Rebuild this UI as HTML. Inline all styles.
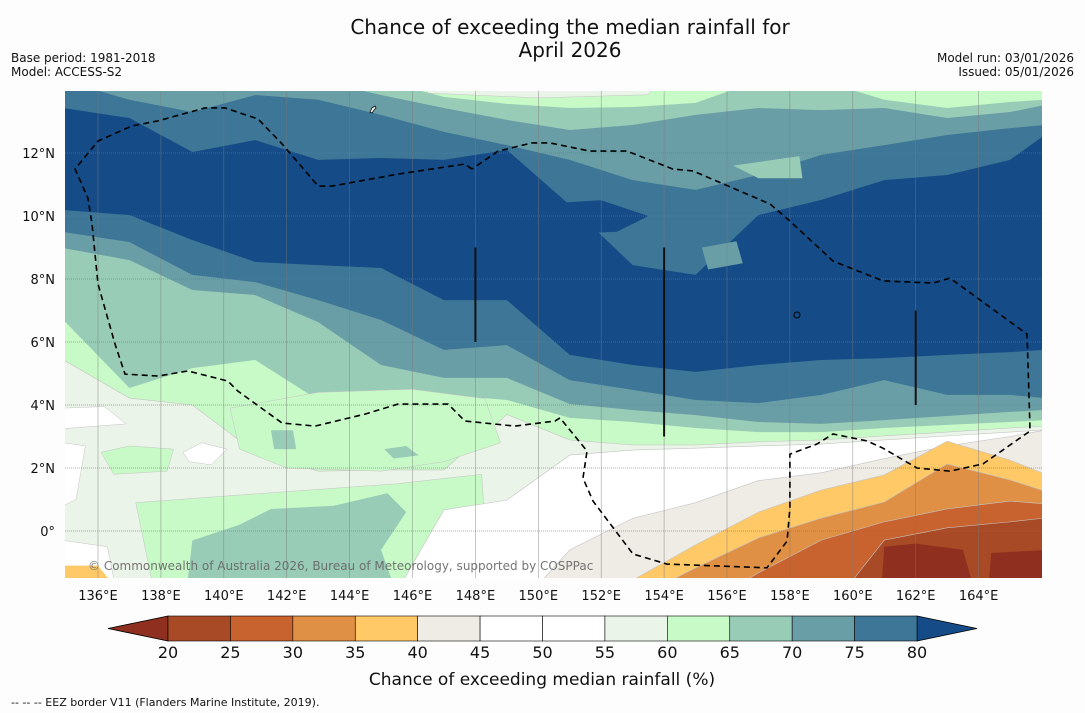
<!DOCTYPE html>
<html><head><meta charset="utf-8">
<style>
body{margin:0;background:#fdfdfd;font-family:"DejaVu Sans","Liberation Sans",sans-serif;}
svg{display:block}
text{font-family:"DejaVu Sans","Liberation Sans",sans-serif;}
</style></head>
<body>
<svg id="chart" width="1085" height="713" viewBox="0 0 1085 713" xmlns="http://www.w3.org/2000/svg">
<rect x="0" y="0" width="1085" height="713" fill="#fdfdfd"/>
<text x="570" y="34" text-anchor="middle" font-size="20" fill="#111">Chance of exceeding the median rainfall for</text>
<text x="570" y="57" text-anchor="middle" font-size="20" fill="#111">April 2026</text>
<text x="11" y="62" font-size="12" fill="#111">Base period: 1981-2018</text>
<text x="11" y="76" font-size="12" fill="#111">Model: ACCESS-S2</text>
<text x="1074" y="62" font-size="12" fill="#111" text-anchor="end">Model run: 03/01/2026</text>
<text x="1074" y="76" font-size="12" fill="#111" text-anchor="end">Issued: 05/01/2026</text>
<defs><clipPath id="mapclip"><rect x="65" y="91" width="977" height="487"/></clipPath></defs>
<g id="map" clip-path="url(#mapclip)"></g>
<g id="axes"></g>
<g id="cbar"></g>
<text x="542" y="685" text-anchor="middle" font-size="17" fill="#111">Chance of exceeding median rainfall (%)</text>
<text x="11" y="706" font-size="11" fill="#111">--  --  -- EEZ border V11 (Flanders Marine Institute, 2019).</text>
</svg>
<script>
// ---- data ----
const lons = [134.9,137,139,141,143,145,147,149,151,153,155,157,159,161,163,165,166.1];
const ge80Top = [13.43,13.11,12.03,12.41,11.78,11.84,11.78,12.1,10.35,8.44,8.13,10.03,10.51,11.14,11.30,11.78,12.57];
const ge80Bot = [10.19,10.03,9.24,8.54,8.44,8.35,7.33,7.33,5.59,5.27,5.05,5.27,5.43,5.49,5.59,5.68,5.75];
const ge75Top = [14.3,13.69,13.30,13.84,13.69,13.21,12.67,12.25,11.78,11.14,10.83,11.30,11.94,12.25,12.57,12.79,12.89];
const ge75Bot = [9.49,9.17,8.13,7.90,7.33,6.70,5.75,5.90,4.79,4.48,4.16,4.06,4.32,4.79,4.32,4.32,4.22];
const ge70Top = [14.3,14.3,14.3,14.3,14.3,13.84,13.43,13.05,12.73,12.89,13.21,13.43,13.36,13.43,13.11,13.30,13.52];
const ge70Bot = [8.98,8.60,7.65,7.49,6.63,5.27,4.86,4.86,4.03,3.84,3.68,3.46,3.40,3.52,3.65,3.78,3.84];
const ge65Top = [14.3,14.3,14.3,14.3,14.3,14.3,13.78,13.56,13.43,13.46,13.59,14.3,14.3,13.69,13.43,13.62,13.69];
const ge65Bot = [6.70,4.54,5.17,5.43,4.16,4.41,4.32,4.16,3.59,3.46,3.27,3.14,3.14,3.27,3.37,3.46,3.52];
const le60Top = [5.43,4.22,4.0,2.5,1.9,1.94,1.94,3.7,2.89,2.73,2.73,2.83,2.89,3.02,3.14,3.27,3.33];
const le55Top = [-2.8,-2.8,-2.8,-2.8,-2.8,-2.8,0.67,0.98,2.41,2.57,2.63,2.70,2.76,2.89,3.02,3.14,3.21];
const le45Top = [-2.8,-2.8,-2.8,-2.8,-2.8,-2.8,-2.8,-2.8,-0.6,0.4,0.9,1.6,1.85,2.3,2.7,3.0,3.2];
const le40Top = [-2.8,-2.8,-2.8,-2.8,-2.8,-2.8,-2.8,-2.8,-2.8,-1.56,-0.44,0.60,1.30,1.78,2.85,2.25,1.81];
const le35Top = [-2.8,-2.8,-2.8,-2.8,-2.8,-2.8,-2.8,-2.8,-2.8,-2.19,-1.17,-0.22,0.41,0.92,2.13,1.62,1.27];
const le30Top = [-2.8,-2.8,-2.8,-2.8,-2.8,-2.8,-2.8,-2.8,-2.8,-2.8,-2.5,-1.33,-0.29,0.29,0.70,0.95,0.86];
const le25Top = [-2.8,-2.8,-2.8,-2.8,-2.8,-2.8,-2.8,-2.8,-2.8,-2.8,-2.8,-2.8,-2.83,-0.29,0.10,0.29,0.41];
// blobs [lon,lat]
const darkPatch = [[150.3,10.4],[152,10.5],[153.5,10.0],[152.5,9.5],[150.3,9.4]];
const patch7075 = [[155.2,9.0],[156.3,9.2],[156.5,8.5],[155.4,8.3]];
const patch6570 = [[156.2,11.6],[158.3,11.9],[158.4,11.2],[157,11.2]];
const topLight = [[146.3,14.3],[153.8,14.3],[153.5,13.85],[150,13.75],[146.5,13.9]];
const greenG1 = [[136.1,2.5],[137,2.7],[138.4,2.6],[138.2,1.9],[136.5,1.8]];
const greenG3 = [[140.2,3.9],[143,4.4],[146,4.5],[148.3,4.2],[148.8,2.8],[147,2.2],[145,1.9],[142,2.0],[140.5,2.6]];
const greenG2 = [[137.2,0.9],[141.3,1.2],[145.5,1.5],[148.2,1.8],[148.3,0.2],[147.5,-2],[137.8,-2]];
const tealT1 = [[138.8,-2],[139,-0.3],[140.5,0.2],[141.5,0.7],[143.5,0.8],[145.2,1.2],[145.8,0.6],[145,-0.6],[145.5,-2]];
const tealT2 = [[141.5,3.2],[142.2,3.2],[142.3,2.6],[141.6,2.6]];
const tealT3 = [[145.1,2.6],[145.8,2.7],[146.2,2.4],[145.4,2.3]];
const white1 = [[138.7,2.5],[139.3,2.8],[140.1,2.6],[139.6,2.1],[138.9,2.2]];
const white2 = [[134.9,3.9],[136.2,3.95],[136.9,3.4],[134.9,3.25]];
const white3 = [[134.9,2.8],[135.6,2.7],[135.3,1.0],[134.9,0.8]];
const white4 = [[134.9,-0.3],[136.3,-0.5],[136.6,-2],[134.9,-2]];
const orangeCorner = [[134.9,-1.1],[136,-1.1],[136.4,-1.6],[134.9,-1.6]];
const le20Blob1 = [[160.9,-2],[161,-0.5],[162,-0.4],[163.5,-0.6],[163.9,-2]];
const le20Blob2 = [[164.3,-2],[164.4,-0.7],[166.2,-0.6],[166.2,-2]];
const eez = [[147.89,11.49],[147.67,11.65],[145.54,11.33],[143.44,10.95],[143.0,10.95],[141.85,12.29],[141.09,13.08],[140.04,13.43],[139.40,13.43],[137.91,13.02],[137.08,12.86],[136,12.38],[135.27,11.49],[135.68,10.57],[135.81,9.75],[136,7.84],[136.54,5.94],[136.86,4.98],[137.91,4.92],[138.86,5.08],[140.13,4.76],[140.45,4.44],[141.85,3.43],[142.90,3.33],[144.49,3.71],[145.54,4.03],[147.13,4.03],[147.67,3.49],[149.26,3.33],[150.53,3.49],[150.69,3.59],[151.55,2.54],[151.42,1.68],[151.74,0.95],[153.01,-0.73],[154.09,-1.05],[157.27,-1.17],[157.91,-0.32],[158.0,0.73],[158.0,2.44],[158.86,2.76],[159.37,3.08],[160.45,2.86],[160.96,2.63],[162.04,2.0],[163.09,1.90],[164.14,2.13],[165.63,3.17],[165.63,3.40],[165.54,6.25],[163.09,8.03],[162.55,7.87],[160.96,7.94],[159.37,8.57],[158.0,9.84],[157.37,10.38],[154.92,11.43],[154.28,11.49],[152.82,12.06],[151.64,12.06],[150.37,12.32],[149.80,12.32],[148.72,12.06],[147.89,11.49]];
const meridianLines = [[148,9,6],[154,9,3],[162,7,4]];
const lonTicks = [136,138,140,142,144,146,148,150,152,154,156,158,160,162,164];
const latTicks = [0,2,4,6,8,10,12];
const cbLevels = [20,25,30,35,40,45,50,55,60,65,70,75,80];
const cbColors = ["#a84a25","#c8622f","#df9044","#fec966","#efebe5","#ffffff","#ffffff","#ebf4e8","#c8fac7","#99ccb6","#6a9ea6","#3e7697"];
const cbUnder = "#8e2f1f", cbOver = "#154c87";
// ---- scales ----
const lonX = l => 98 + (l-136)*31.45;
const latY = t => 531 - t*31.5;
const NS = "http://www.w3.org/2000/svg";
const map = document.getElementById('map'), axes = document.getElementById('axes'), cbar = document.getElementById('cbar');
function mk(tag, attrs, parent){const e=document.createElementNS(NS,tag);for(const k in attrs)e.setAttribute(k,attrs[k]);parent.appendChild(e);return e;}
function band(top, bot, color, name){
  let pts = lons.map((l,i)=>lonX(l)+','+latY(top[i]));
  if(bot){for(let i=lons.length-1;i>=0;i--)pts.push(lonX(lons[i])+','+latY(bot[i]));}
  else{pts.push('1060,620','50,620');}
  const p = mk('polygon',{points:pts.join(' '),fill:color,stroke:bot?'none':'#c4c4c4','stroke-width':bot?0:0.6},map);
  
  
}
function blob(arr, color, name, outline){
  const p = mk('polygon',{points:arr.map(a=>lonX(a[0])+','+latY(a[1])).join(' '),fill:color,stroke:outline?'#c4c4c4':'none','stroke-width':0.5},map);
  
  
}
const r = mk('rect',{x:65,y:91,width:977,height:487,fill:"#c8fac7"},map);


band(ge65Top, ge65Bot, "#99ccb6", "band-65-70");
band(ge70Top, ge70Bot, "#6a9ea6", "band-70-75");
band(ge75Top, ge75Bot, "#3e7697", "band-75-80");
band(ge80Top, ge80Bot, "#154c87", "band-over-80");
blob(darkPatch, "#154c87", "patch-over-80");
blob(patch7075, "#6a9ea6", "patch-70-75");
blob(patch6570, "#99ccb6", "patch-65-70");
blob(topLight, "#ebf4e8", "patch-55-60-top", true);
band(le60Top, null, "#ebf4e8", "band-55-60");
blob(greenG1, "#c8fac7", "patch-60-65-a", true);
blob(greenG3, "#c8fac7", "patch-60-65-b", true);
blob(greenG2, "#c8fac7", "patch-60-65-c", true);
blob(tealT1, "#99ccb6", "patch-65-70-a");
blob(tealT2, "#99ccb6", "patch-65-70-b");
blob(tealT3, "#99ccb6", "patch-65-70-c");
blob(white1, "#ffffff", "patch-45-55-a", true);
blob(white2, "#ffffff", "patch-45-55-b", true);
blob(white3, "#ffffff", "patch-45-55-c", true);
blob(white4, "#ffffff", "patch-45-55-d", true);
band(le55Top, null, "#ffffff", "band-45-55");
band(le45Top, null, "#efebe5", "band-40-45");
band(le40Top, null, "#fec966", "band-35-40");
blob(orangeCorner, "#fec966", "patch-35-40-corner");
band(le35Top, null, "#df9044", "band-30-35");
band(le30Top, null, "#c8622f", "band-25-30");
band(le25Top, null, "#a84a25", "band-20-25");
blob(le20Blob1, "#8e2f1f", "patch-under-20-a");
blob(le20Blob2, "#8e2f1f", "patch-under-20-b");
// gridlines
lonTicks.forEach(l=>{
  const g = mk('line',{x1:lonX(l),x2:lonX(l),y1:91,y2:578,stroke:'#777','stroke-width':0.6,'stroke-opacity':0.7},map);
  
  
});
latTicks.forEach(t=>{
  const g = mk('line',{x1:65,x2:1042,y1:latY(t),y2:latY(t),stroke:'#777','stroke-width':0.8,'stroke-dasharray':'1,1','stroke-opacity':0.8},map);
  
  
});
// meridian segments
meridianLines.forEach(m=>{
  const g = mk('line',{x1:lonX(m[0]),x2:lonX(m[0]),y1:latY(m[1]),y2:latY(m[2]),stroke:'#111','stroke-width':2},map);
  
  
});
// EEZ
const ez = mk('polyline',{points:eez.map(a=>lonX(a[0])+','+latY(a[1])).join(' '),fill:'none',stroke:'#000','stroke-width':1.6,'stroke-dasharray':'6,4'},map);


const isl = mk('circle',{cx:797,cy:315,r:3,fill:'none',stroke:'#000','stroke-width':1},map);


const isl2 = mk('path',{d:'M370,112 l2,-4 l3,-2 l1,2 l-2,2 l-2,3 z',fill:'#fff',stroke:'#000','stroke-width':0.8},map);


const wm = mk('text',{x:88,y:570,'font-size':12,fill:'#666','fill-opacity':0.9},map);
wm.textContent = '© Commonwealth of Australia 2026, Bureau of Meteorology, supported by COSPPac';


// axis labels
lonTicks.forEach(l=>{
  const t = mk('text',{x:lonX(l),y:600,'font-size':13,'text-anchor':'middle',fill:'#111'},axes);
  t.textContent = l+'°E';
  
  
});
latTicks.forEach(v=>{
  const t = mk('text',{x:55,y:latY(v)+5,'font-size':13,'text-anchor':'end',fill:'#111'},axes);
  t.textContent = v===0 ? '0°' : v+'°N';
  
  
});
// colorbar
const cbX0 = 168, cbX1 = 917, cbY = 616, cbH = 25;
const cbW = (cbX1-cbX0)/cbColors.length;
const tl = mk('polygon',{points:`${cbX0},${cbY} ${108},${cbY+cbH/2} ${cbX0},${cbY+cbH}`,fill:cbUnder,stroke:'#000','stroke-width':0.8},cbar);


const tr = mk('polygon',{points:`${cbX1},${cbY} ${977},${cbY+cbH/2} ${cbX1},${cbY+cbH}`,fill:cbOver,stroke:'#000','stroke-width':0.8},cbar);


cbColors.forEach((c,i)=>{
  const b = mk('rect',{x:cbX0+i*cbW,y:cbY,width:cbW,height:cbH,fill:c,stroke:'#000','stroke-width':0.6},cbar);
  
  
});
cbLevels.forEach((v,i)=>{
  const t = mk('text',{x:cbX0+i*cbW,y:658,'font-size':16,'text-anchor':'middle',fill:'#111'},cbar);
  t.textContent = v;
  
  
});
</script>
</body></html>
